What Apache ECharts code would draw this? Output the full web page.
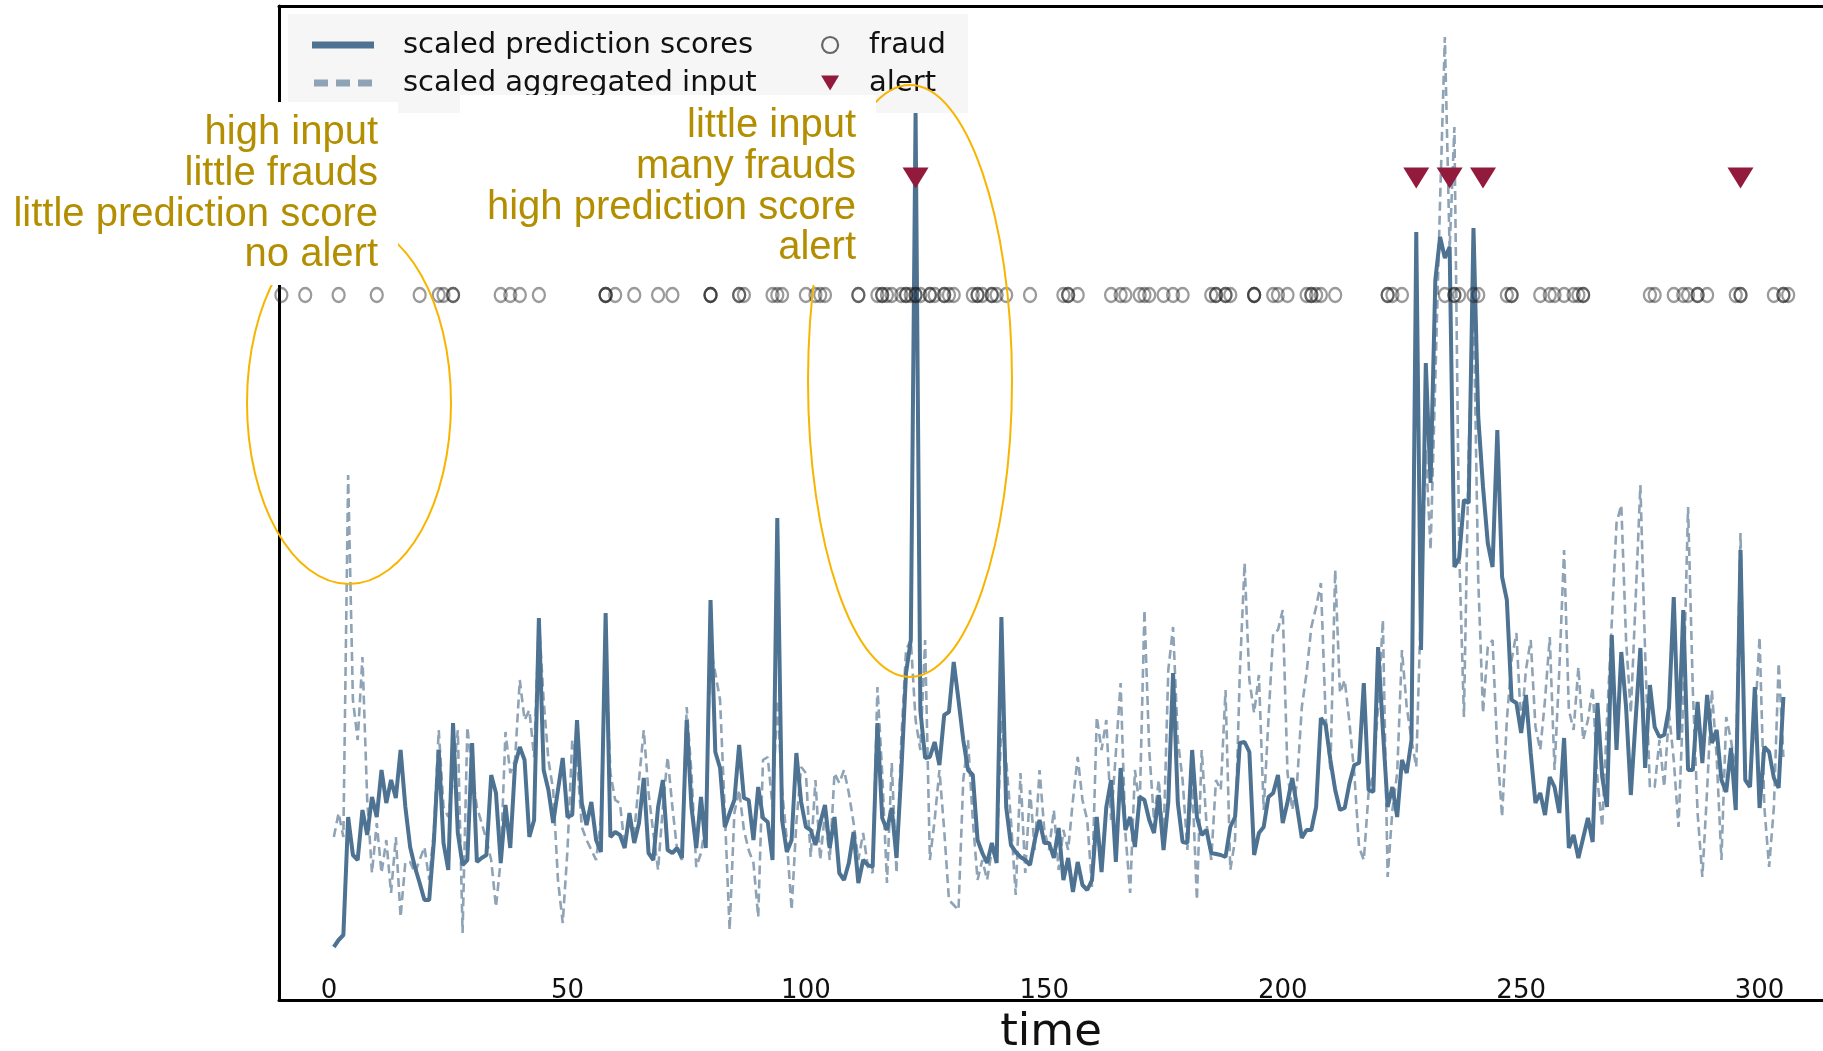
<!DOCTYPE html>
<html>
<head>
<meta charset="utf-8">
<script src="https://cdn.jsdelivr.net/npm/echarts@6/dist/echarts.min.js"></script>
<style>
  html, body { margin: 0; padding: 0; background: #fff; }
  #chart { width: 1823px; height: 1051px; }
</style>
</head>
<body>
<div id="chart"></div>
<script>
// scaled series, one value per time step (t = 1 .. 305)
const predictionScores = [
  5.3, 6.0, 6.5, 18.3, 14.5, 14.0, 19.0, 16.5, 20.3, 18.3,
  23.0, 19.7, 22.0, 20.2, 25.0, 19.3, 15.3, 13.3, 11.7, 10.0,
  10.0, 16.0, 25.0, 15.7, 13.0, 27.7, 16.7, 13.5, 14.0, 25.7,
  13.8, 14.2, 14.5, 22.5, 20.7, 13.7, 19.5, 15.2, 23.5, 25.3,
  24.0, 16.3, 18.0, 38.2, 23.0, 21.0, 17.7, 21.0, 24.2, 18.3,
  18.5, 28.0, 19.7, 17.5, 19.8, 16.0, 14.8, 38.7, 16.3, 16.8,
  16.5, 15.2, 18.7, 15.7, 17.7, 22.2, 14.7, 14.0, 19.3, 22.0,
  15.0, 14.7, 15.2, 14.2, 28.0, 19.3, 15.2, 20.3, 15.2, 40.0,
  24.8, 23.2, 17.3, 18.7, 20.0, 25.5, 20.2, 20.0, 16.0, 21.3,
  18.2, 17.8, 14.0, 48.2, 18.0, 14.8, 16.0, 24.7, 19.8, 17.3,
  17.0, 15.5, 17.7, 19.5, 15.2, 18.3, 12.7, 12.0, 13.7, 16.8,
  11.7, 14.0, 13.5, 13.3, 27.7, 18.2, 17.0, 19.2, 14.2, 22.7,
  32.7, 36.0, 88.7, 29.0, 24.2, 24.3, 25.8, 23.5, 28.5, 28.8,
  33.8, 30.0, 26.0, 23.0, 22.5, 16.0, 14.7, 13.7, 15.7, 13.7,
  38.3, 19.3, 15.5, 14.8, 14.3, 14.0, 13.5, 16.0, 18.0, 15.7,
  15.7, 14.2, 17.2, 12.0, 14.2, 10.8, 13.8, 11.5, 11.0, 12.0,
  18.3, 12.8, 19.3, 22.0, 13.8, 23.2, 17.0, 18.3, 15.3, 20.3,
  20.0, 18.0, 16.7, 20.5, 15.0, 19.8, 32.7, 19.7, 15.8, 15.7,
  25.0, 18.3, 16.5, 17.0, 14.7, 14.6, 14.5, 14.3, 17.3, 18.3,
  25.7, 25.8, 24.8, 14.5, 16.7, 17.3, 20.3, 20.7, 22.5, 17.7,
  19.8, 22.2, 19.3, 16.2, 17.0, 17.0, 19.3, 28.2, 27.5, 24.0,
  21.0, 19.0, 19.2, 21.7, 23.5, 23.7, 31.7, 21.0, 20.8, 35.3,
  27.0, 19.3, 21.3, 18.3, 24.0, 22.7, 26.0, 76.8, 35.0, 63.7,
  51.7, 72.0, 76.3, 74.2, 75.3, 43.3, 44.2, 50.0, 49.7, 77.2,
  58.3, 51.3, 45.7, 43.3, 57.0, 42.3, 40.0, 30.0, 29.7, 26.7,
  30.5, 24.7, 19.7, 20.7, 18.5, 22.3, 21.3, 18.7, 26.2, 15.2,
  16.5, 14.2, 16.2, 18.2, 15.8, 29.7, 22.3, 19.3, 36.5, 25.0,
  34.8, 29.3, 20.5, 28.0, 35.2, 23.2, 31.5, 27.3, 26.3, 26.5,
  29.2, 40.3, 26.0, 39.0, 23.0, 23.0, 29.8, 23.7, 30.5, 25.7,
  27.0, 22.0, 20.8, 25.2, 19.0, 45.0, 22.0, 21.3, 31.3, 19.2,
  25.3, 24.8, 22.2, 21.2, 30.3
];

const aggregatedInput = [
  16.3, 18.7, 16.3, 52.5, 30.0, 26.0, 34.3, 20.0, 12.7, 17.7,
  12.7, 16.0, 10.7, 16.3, 8.3, 13.8, 13.8, 12.7, 14.0, 15.3,
  12.0, 17.0, 27.0, 19.3, 18.3, 22.0, 27.0, 6.7, 27.3, 22.7,
  19.3, 17.7, 16.0, 14.0, 9.3, 14.0, 26.8, 22.7, 24.0, 32.0,
  28.0, 29.0, 24.3, 38.0, 30.0, 24.0, 21.0, 12.0, 7.7, 15.0,
  26.0, 24.0, 17.3, 16.0, 15.0, 14.0, 18.0, 35.0, 22.7, 20.0,
  19.7, 15.3, 18.3, 16.7, 22.0, 27.0, 20.7, 16.7, 13.0, 19.3,
  24.3, 19.3, 15.0, 14.0, 29.3, 22.7, 13.3, 14.7, 17.7, 35.3,
  32.7, 30.0, 18.7, 7.0, 18.7, 21.0, 17.0, 15.0, 13.7, 8.3,
  24.0, 24.3, 19.3, 30.0, 21.0, 16.0, 9.0, 17.7, 23.3, 22.7,
  14.3, 22.0, 14.0, 18.7, 14.0, 22.7, 21.7, 23.0, 20.7, 17.7,
  14.0, 16.7, 13.3, 12.7, 31.3, 22.7, 11.7, 23.7, 12.7, 26.0,
  35.0, 36.0, 28.0, 25.0, 36.0, 14.0, 18.0, 23.0, 17.0, 10.0,
  9.5, 9.0, 22.0, 26.0, 18.0, 12.0, 14.0, 12.0, 15.0, 14.0,
  28.0, 24.0, 18.0, 10.5, 22.7, 12.7, 21.0, 15.0, 23.0, 17.0,
  15.0, 19.0, 13.0, 17.0, 15.0, 20.0, 24.3, 20.0, 18.0, 11.3,
  28.3, 25.0, 28.0, 18.0, 24.7, 31.7, 16.7, 10.7, 23.0, 19.3,
  39.0, 25.0, 18.0, 22.0, 16.0, 33.0, 37.3, 26.0, 22.0, 15.0,
  22.0, 10.0, 25.0, 17.7, 14.0, 22.0, 21.0, 31.0, 13.0, 16.0,
  32.7, 43.7, 32.0, 28.7, 32.5, 19.0, 28.0, 36.7, 37.0, 39.0,
  22.7, 19.0, 21.7, 29.3, 32.7, 37.3, 39.3, 41.7, 28.3, 23.0,
  43.0, 30.7, 32.0, 27.7, 22.7, 15.3, 14.0, 20.7, 22.7, 29.3,
  38.0, 12.3, 19.0, 22.7, 35.0, 29.3, 26.0, 23.3, 40.0, 55.0,
  45.0, 62.0, 80.0, 96.3, 75.0, 87.3, 45.0, 28.3, 55.0, 70.0,
  42.0, 28.7, 35.3, 36.0, 25.0, 18.3, 28.0, 34.0, 36.7, 27.3,
  33.0, 36.0, 27.3, 25.0, 30.0, 36.3, 23.0, 33.0, 45.0, 29.0,
  27.0, 33.3, 26.0, 28.0, 31.3, 22.0, 17.3, 28.0, 37.7, 47.7,
  49.5, 36.0, 28.7, 40.0, 51.5, 34.7, 21.2, 21.3, 26.0, 21.3,
  28.7, 24.0, 17.3, 30.0, 49.3, 31.0, 18.7, 12.3, 21.0, 31.0,
  24.3, 14.0, 28.3, 26.0, 22.7, 46.7, 22.7, 22.7, 27.7, 36.3,
  19.3, 13.3, 19.3, 33.7, 24.3
];

// time steps with a fraud (repeated steps = several frauds at once)
const fraudTimes = [
  -10, -5, 2, 10, 19, 23, 24, 26, 26, 36, 38, 40, 44, 58, 58, 58, 60, 64, 69, 72,
  80, 80, 80, 86, 86, 87, 93, 94, 95, 100, 102, 103, 104, 111, 111, 115, 116, 116,
  117, 118, 120, 121, 121, 122, 123, 123, 124, 126, 126, 127, 129, 129, 130, 131,
  135, 136, 136, 137, 139, 139, 140, 142, 147,
  154, 155, 155, 157, 164, 166, 167, 170, 171, 172, 175, 177, 179, 185, 186, 186,
  188, 188, 189, 194, 194, 194, 198, 199, 201, 205, 206, 206, 207, 208, 211, 222,
  222, 223, 225, 234, 236, 236, 237, 240, 241, 247, 248, 248, 254, 256, 257, 259,
  261, 262, 263, 263, 277, 278, 282, 284, 285, 287, 287, 289, 295, 296, 296, 303,
  305, 305, 306
];
const alertTimes = [123, 228, 235, 242, 296];

const fraudLevel = 70.5;
const alertLevel = 82.2;
const tickLabels = [0, 50, 100, 150, 200, 250, 300];

const FONT = 'DejaVu Sans';
const NOTE_FONT = 'Liberation Sans';
const NOTE_COLOR = '#b38e00';
const ELLIPSE_COLOR = '#f8b500';

const predData = predictionScores.map((v, i) => [i + 1, v]);
const inputData = aggregatedInput.map((v, i) => [i + 1, v]);
const fraudData = fraudTimes.map(t => [t, fraudLevel]);
const alertData = alertTimes.map(t => [t, alertLevel]);

const triangleDown = 'path://M0,0L24,0L12,20Z';
const dashIcon = 'path://M0,0H14V7H0Z M22,0H36V7H22Z M44,0H58V7H44Z';

let chart = echarts.init(document.getElementById('chart'));
chart.setOption({
  animation: false,
  grid: { left: 279, right: 0, top: 6, bottom: 51, outerBoundsMode: 'none' },
  xAxis: [
    {
      type: 'value',
      min: -10.5,
      max: 313.3,
      position: 'bottom',
      axisLine: { onZero: false, lineStyle: { color: '#000', width: 3 } },
      axisTick: { show: false },
      splitLine: { show: false },
      axisLabel: {
        inside: true,
        customValues: tickLabels,
        margin: -4,
        fontFamily: FONT,
        fontSize: 26,
        color: '#111'
      },
      name: 'time',
      nameLocation: 'middle',
      nameGap: 11,
      nameTextStyle: { fontFamily: FONT, fontSize: 45, color: '#111' }
    },
    {
      // top frame line only
      type: 'value',
      min: -10.5,
      max: 313.3,
      position: 'top',
      axisLine: { onZero: false, lineStyle: { color: '#000', width: 3 } },
      axisTick: { show: false },
      axisLabel: { show: false },
      splitLine: { show: false }
    }
  ],
  yAxis: {
    type: 'value',
    min: 0,
    max: 99.4,
    axisLine: { show: true, onZero: false, lineStyle: { color: '#000', width: 3 } },
    axisTick: { show: false },
    axisLabel: { show: false },
    splitLine: { show: false }
  },
  legend: [
    {
      orient: 'vertical',
      left: 312,
      top: 30,
      padding: 0,
      itemWidth: 62,
      itemHeight: 7,
      itemGap: 8,
      selectedMode: false,
      textStyle: { fontFamily: FONT, fontSize: 29, color: '#111', lineHeight: 30, padding: [0, 0, 0, 24] },
      data: [
        { name: 'scaled prediction scores', icon: 'rect' },
        { name: 'scaled aggregated input', icon: dashIcon }
      ]
    },
    {
      orient: 'vertical',
      left: 821,
      top: 30,
      padding: 0,
      itemWidth: 18,
      itemHeight: 16,
      itemGap: 8,
      selectedMode: false,
      textStyle: { fontFamily: FONT, fontSize: 29, color: '#111', lineHeight: 30, padding: [0, 0, 0, 25] },
      data: [
        { name: 'fraud', icon: 'circle', itemStyle: { color: 'rgba(0,0,0,0)', borderColor: 'rgba(40,40,40,0.7)', borderWidth: 2.2, opacity: 1 } },
        { name: 'alert', icon: triangleDown, itemStyle: { opacity: 1 } }
      ]
    }
  ],
  series: [
    {
      name: 'scaled aggregated input',
      type: 'line',
      data: inputData,
      symbol: 'none',
      z: 2,
      itemStyle: { color: '#8ea3b5' },
      lineStyle: { color: '#8ea3b5', width: 2.6, type: [9, 5] }
    },
    {
      name: 'scaled prediction scores',
      type: 'line',
      data: predData,
      symbol: 'none',
      z: 3,
      itemStyle: { color: '#4d7292' },
      lineStyle: { color: '#4d7292', width: 4 }
    },
    {
      name: 'fraud',
      type: 'scatter',
      data: fraudData,
      symbol: 'circle',
      symbolSize: [12, 14],
      z: 4,
      itemStyle: { color: 'rgba(0,0,0,0)', borderColor: 'rgba(30,30,30,0.45)', borderWidth: 2.4, opacity: 1 }
    },
    {
      name: 'alert',
      type: 'scatter',
      data: alertData,
      symbol: triangleDown,
      symbolSize: [26, 21],
      z: 5,
      itemStyle: { color: '#921a3c', opacity: 1 }
    }
  ],
  graphic: [
    // legend background
    { type: 'rect', z: 1, shape: { x: 288, y: 14, width: 680, height: 99 }, style: { fill: '#f6f6f6' } },
    // ellipses marking the two situations
    { type: 'ellipse', z: 7, shape: { cx: 349, cy: 403, rx: 102, ry: 181 }, style: { fill: 'none', stroke: ELLIPSE_COLOR, lineWidth: 2 } },
    { type: 'ellipse', z: 7, shape: { cx: 910, cy: 381, rx: 102, ry: 296 }, style: { fill: 'none', stroke: ELLIPSE_COLOR, lineWidth: 2 } },
    // annotation boxes
    { type: 'rect', z: 8, shape: { x: 0, y: 102, width: 398, height: 183 }, style: { fill: '#fff' } },
    {
      type: 'text', z: 9, x: 378, y: 113,
      style: {
        text: 'high input\nlittle frauds\nlittle prediction score\nno alert',
        fill: NOTE_COLOR, fontFamily: NOTE_FONT, fontSize: 40, lineHeight: 40.7,
        align: 'right', verticalAlign: 'top'
      }
    },
    { type: 'rect', z: 8, shape: { x: 460, y: 95, width: 416, height: 190 }, style: { fill: '#fff' } },
    {
      type: 'text', z: 9, x: 856, y: 106,
      style: {
        text: 'little input\nmany frauds\nhigh prediction score\nalert',
        fill: NOTE_COLOR, fontFamily: NOTE_FONT, fontSize: 40, lineHeight: 40.7,
        align: 'right', verticalAlign: 'top'
      }
    }
  ]
});
</script>
</body>
</html>
